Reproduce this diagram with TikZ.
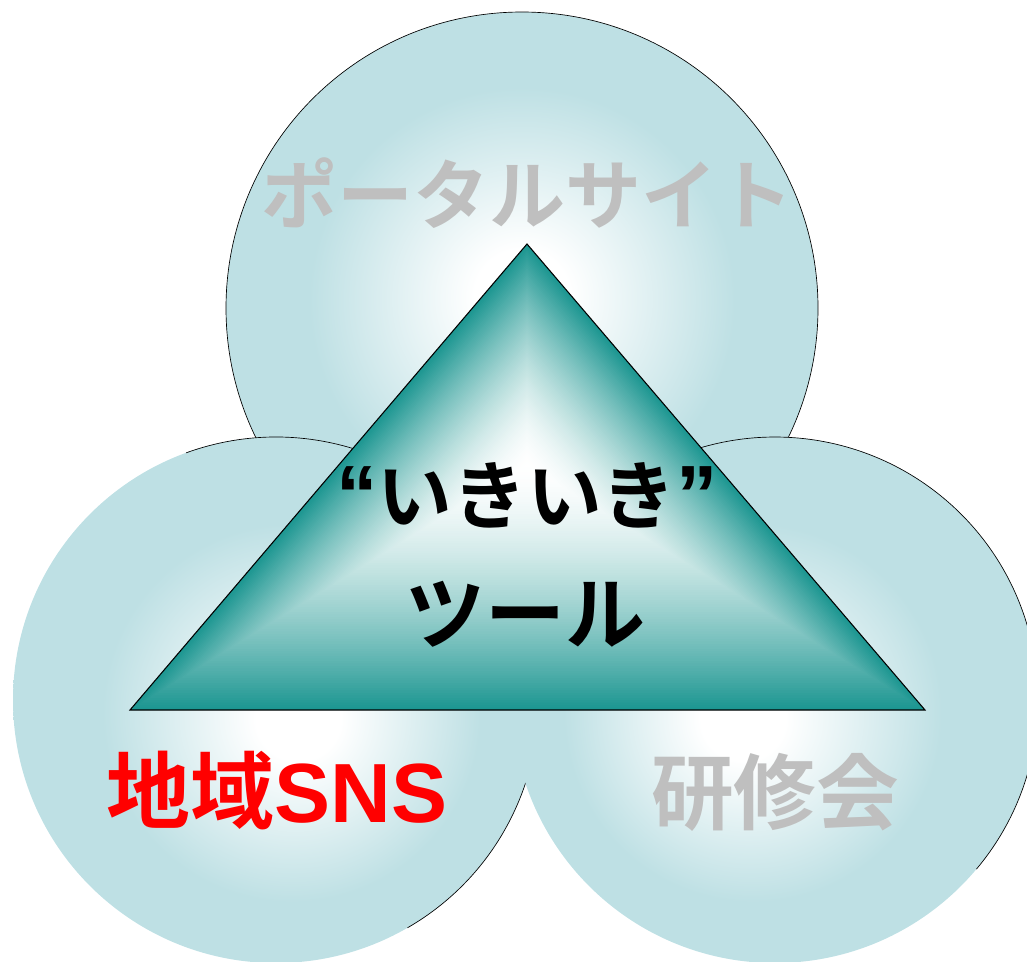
\documentclass[tikz,border=0pt]{standalone}
\usepackage{fontspec}
\usetikzlibrary{calc}
\newfontfamily\cjk{Noto Sans CJK JP Bold}
\newfontfamily\lat{Liberation Sans}
\definecolor{cl}{RGB}{190,224,228}
\definecolor{tl}{RGB}{28,150,145}
\definecolor{gtxt}{RGB}{191,191,191}
\pgfdeclareradialshading{circT}{\pgfpoint{0bp}{1bp}}{color(0bp)=(white); color(4bp)=(white); color(18bp)=(cl); color(50bp)=(cl)}
\pgfdeclareradialshading{circL}{\pgfpoint{2.3bp}{-1.9bp}}{color(0bp)=(white); color(4bp)=(white); color(18bp)=(cl); color(50bp)=(cl)}
\pgfdeclareradialshading{circR}{\pgfpoint{-3.3bp}{-1.9bp}}{color(0bp)=(white); color(4bp)=(white); color(18bp)=(cl); color(50bp)=(cl)}
\tikzset{
  rim/.style={draw=black, line width=0.5pt},
  jp/.style={inner sep=0pt, font=\cjk\fontsize{#1}{#1}\selectfont},
  qt/.style={font=\lat\bfseries\fontsize{60}{60}\selectfont},
}
\begin{document}
\begin{tikzpicture}[x=0.75pt, y=-0.75pt]
\useasboundingbox (0,0) rectangle (1027,961);
% circles
\shade[shading=circT] (522,308) circle (296);
\draw[rim] (522,308) circle (296);
\shade[shading=circL] (276,700) circle (263);
\draw[rim] (276,700) ++(60:263) arc[start angle=60, end angle=-110, radius=263];
\shade[shading=circR] (775,700) circle (263);
\draw[rim] (775,700) ++(40:263) arc[start angle=40, end angle=-115, radius=263];
% triangle with path gradient
\coordinate (apex) at (527,244);
\coordinate (bl) at (130,710);
\coordinate (br) at (925,710);
\coordinate (ctr) at (527,465);
\foreach \i in {100,99,...,1}{
  \pgfmathsetmacro\s{\i/100}
  \pgfmathsetmacro\f{100*\s^1.6}
  \fill[tl!\f!white] ($(ctr)!\s!(apex)$) -- ($(ctr)!\s!(bl)$) -- ($(ctr)!\s!(br)$) -- cycle;
}
\draw[line width=0.8pt, line join=miter] (apex) -- (bl) -- (br) -- cycle;
% texts
\node[jp=57, text=gtxt] (portal) at (527,193) {ポータルサイト};
\node[jp=56] (iki) at (527,495) {{\lat\bfseries\fontsize{62}{62}\selectfont “}いきいき{\lat\bfseries\fontsize{62}{62}\selectfont ”}};
\node[jp=60] (tool) at (525,614) {ツール};
\node[jp=63, text=red] (sns) at (277,791) {地域{\lat\bfseries SNS}};
\node[jp=62, text=gtxt] (kenshu) at (775,792) {研修会};
\end{tikzpicture}
\end{document}
